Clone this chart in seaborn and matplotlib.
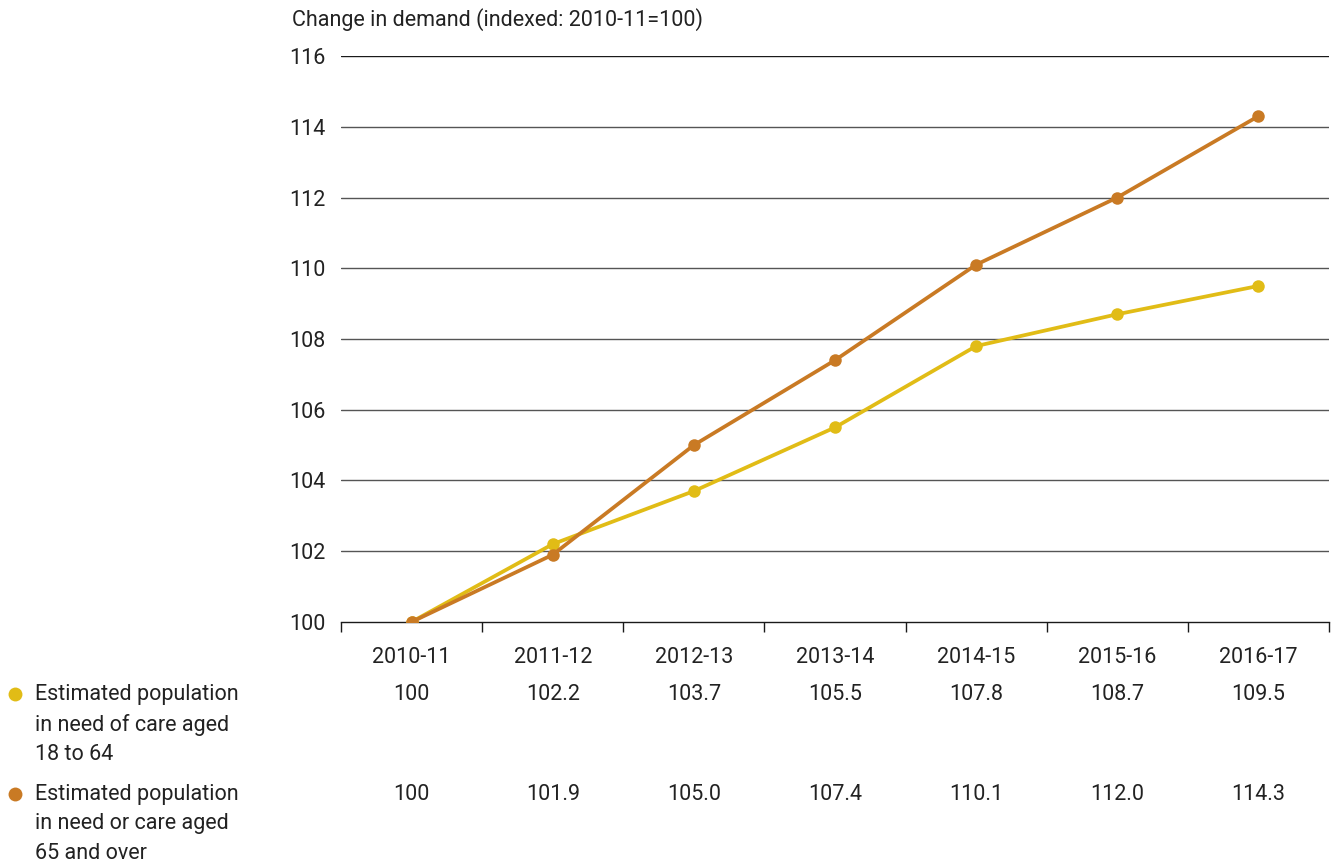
import numpy as np
import pandas as pd
import matplotlib.pyplot as plt
import matplotlib.transforms as mtransforms
from matplotlib.lines import Line2D
import seaborn as sns

# data
periods = ["2010-11", "2011-12", "2012-13", "2013-14", "2014-15", "2015-16", "2016-17"]
aged_18_64 = [100, 102.2, 103.7, 105.5, 107.8, 108.7, 109.5]
aged_65_over = [100, 101.9, 105.0, 107.4, 110.1, 112.0, 114.3]
labels_18_64 = ["100", "102.2", "103.7", "105.5", "107.8", "108.7", "109.5"]
labels_65_over = ["100", "101.9", "105.0", "107.4", "110.1", "112.0", "114.3"]
legend_18_64 = "Estimated population\nin need of care aged\n18 to 64"
legend_65_over = "Estimated population\nin need or care aged\n65 and over"

YELLOW = "#E1BC16"
ORANGE = "#C97A24"
FS = 15.5

sns.set_style("white")
plt.rcParams["font.family"] = ["Roboto", "DejaVu Sans"]
plt.rcParams["text.color"] = "#222222"

df = pd.DataFrame({
    "pos": list(range(len(periods))) * 2,
    "value": aged_18_64 + aged_65_over,
    "series": ["18-64"] * len(periods) + ["65+"] * len(periods),
})

fig = plt.figure(figsize=(13.33, 8.66), dpi=100)
ax = fig.add_axes([0.2558, 0.2818, 0.7412, 0.6535])

# gridlines
for y in range(102, 117, 2):
    ax.axhline(y, color="#1a1a1a" if y == 116 else "#555555", lw=1.0, zorder=0)

sns.lineplot(data=df, x="pos", y="value", hue="series",
             palette={"18-64": YELLOW, "65+": ORANGE},
             hue_order=["18-64", "65+"],
             marker="o", markersize=9, markeredgewidth=0, lw=2.7,
             legend=False, ax=ax, zorder=3)

ax.set_xlim(-0.5, len(periods) - 0.5)
ax.set_ylim(100, 116)
ax.set_yticks(range(100, 117, 2))
ax.tick_params(axis="y", length=0, labelsize=FS, pad=11, labelcolor="#222222")

ax.set_xticks(np.arange(len(periods)))
ax.set_xticklabels(periods)
ax.set_xticks(np.arange(len(periods) + 1) - 0.5, minor=True)
ax.tick_params(axis="x", which="major", length=0, labelsize=FS, pad=18,
               labelcolor="#222222")
ax.tick_params(axis="x", which="minor", length=7, width=1, color="#1a1a1a",
               direction="out", bottom=True)
ax.set_xlabel("")
ax.set_ylabel("")

for s in ["top", "right", "left"]:
    ax.spines[s].set_visible(False)
ax.spines["bottom"].set_color("#1a1a1a")
ax.spines["bottom"].set_linewidth(1.0)

fig.text(292 / 1333, 1 - 20 / 866, "Change in demand (indexed: 2010-11=100)",
         fontsize=FS, va="center", ha="left")

# table rows
trans = mtransforms.blended_transform_factory(ax.transData, fig.transFigure)
for i in range(len(periods)):
    ax.text(i, 1 - 694 / 866, labels_18_64[i], transform=trans,
            ha="center", va="center", fontsize=FS)
    ax.text(i, 1 - 794 / 866, labels_65_over[i], transform=trans,
            ha="center", va="center", fontsize=FS)

# legend
for ytop, color, text in [(694, YELLOW, legend_18_64), (794, ORANGE, legend_65_over)]:
    fig.add_artist(Line2D([15 / 1333], [1 - ytop / 866], marker="o", color=color,
                          markersize=10, markeredgewidth=0, transform=fig.transFigure))
    fig.text(35 / 1333, 1 - (ytop - 10) / 866, text, fontsize=FS,
             va="top", ha="left", linespacing=1.52)

fig.savefig("out.png", dpi=100)
